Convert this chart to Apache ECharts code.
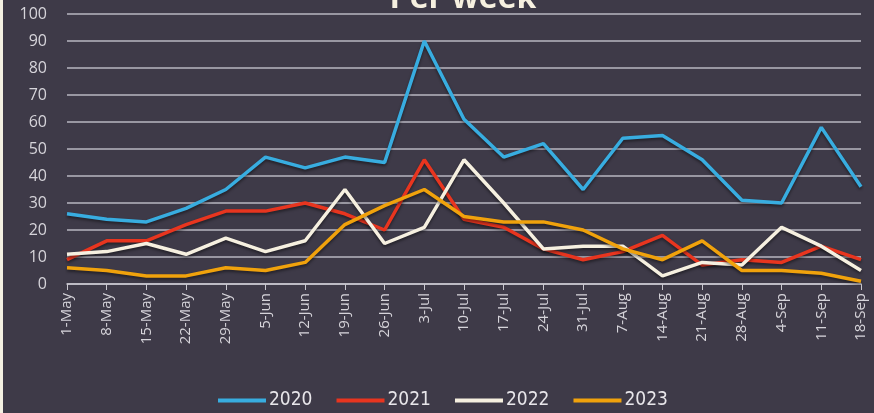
<!DOCTYPE html>
<html>
<head>
<meta charset="utf-8">
<script src="https://cdn.jsdelivr.net/npm/echarts@6/dist/echarts.min.js"></script>
<style>
    html, body { margin: 0; padding: 0; background: #f4f0e2; }
    #main { position: absolute; left: 3px; top: 0; width: 871px; height: 413px; }
</style>
</head>
<body>
<div id="main"></div>
<script>
// 周标签
var weeks = ['1-May', '8-May', '15-May', '22-May', '29-May', '5-Jun', '12-Jun', '19-Jun', '26-Jun',
    '3-Jul', '10-Jul', '17-Jul', '24-Jul', '31-Jul', '7-Aug', '14-Aug', '21-Aug', '28-Aug',
    '4-Sep', '11-Sep', '18-Sep'];

// 每年的数据
var y2020 = [26, 24, 23, 28, 35, 47, 43, 47, 45, 90, 61, 47, 52, 35, 54, 55, 46, 31, 30, 58, 36];
var y2021 = [9, 16, 16, 22, 27, 27, 30, 26, 20, 46, 24, 21, 13, 9, 12, 18, 7, 9, 8, 14, 9];
var y2022 = [11, 12, 15, 11, 17, 12, 16, 35, 15, 21, 46, 30, 13, 14, 14, 3, 8, 7, 21, 14, 5];
var y2023 = [6, 5, 3, 3, 6, 5, 8, 22, 29, 35, 25, 23, 23, 20, 13, 9, 16, 5, 5, 4, 1];

var years = ['2020', '2021', '2022', '2023'];
var colors = ['#38ade0', '#e8351f', '#f6f0e0', '#f0a20c'];
var allData = [y2020, y2021, y2022, y2023];

var series = [];
for (var i = 0; i < years.length; i++) {
    series.push({
        name: years[i],
        type: 'line',
        data: allData[i],
        symbol: 'none',
        lineStyle: {
            width: 3.5,
            color: colors[i],
            shadowColor: 'rgba(0,0,0,0.45)',
            shadowBlur: 3,
            shadowOffsetY: 2
        },
        itemStyle: { color: colors[i] }
    });
}

var myChart = echarts.init(document.getElementById('main'));
var option = {
    backgroundColor: '#3e3a48',
    textStyle: { fontFamily: 'Open Sans' },
    title: {
        text: 'Per week',
        left: 455,
        top: -22,
        textAlign: 'center',
        textStyle: { color: '#f6f0e0', fontSize: 32, fontWeight: 'bold', fontFamily: 'Open Sans' }
    },
    legend: {
        data: years,
        bottom: -2,
        left: 210,
        icon: 'rect',
        itemWidth: 48,
        itemHeight: 4,
        itemGap: 24,
        textStyle: { color: '#e8e6ea', fontSize: 19, fontFamily: 'DejaVu Sans Condensed', padding: [0, 0, 0, -2] }
    },
    grid: { left: 64, right: 13, top: 14, bottom: 129 },
    xAxis: {
        type: 'category',
        boundaryGap: false,
        data: weeks,
        axisLine: { lineStyle: { color: '#c9c7cf', width: 1.5 } },
        axisTick: { show: true, alignWithLabel: true, length: 6, lineStyle: { color: '#c9c7cf' } },
        axisLabel: { rotate: 90, interval: 0, color: '#d6d4da', fontSize: 15, margin: 9 }
    },
    yAxis: {
        type: 'value',
        min: 0,
        max: 100,
        interval: 10,
        axisLine: { show: false },
        axisTick: { show: false },
        axisLabel: { color: '#d6d4da', fontSize: 16, margin: 20 },
        splitLine: { lineStyle: { color: '#b9b7c1', width: 1.5 } }
    },
    series: series
};
myChart.setOption(option, true);
</script>
</body>
</html>
